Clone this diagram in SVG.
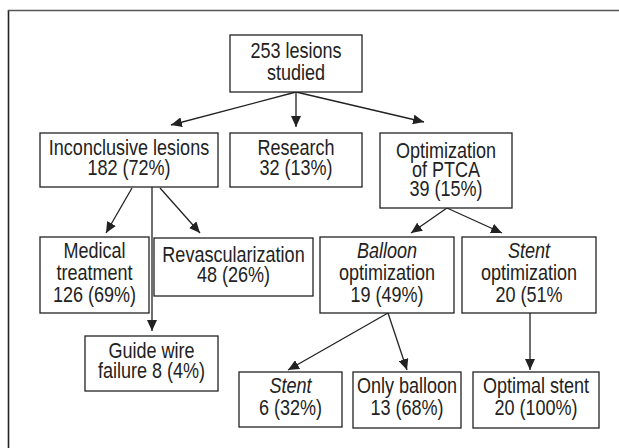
<svg xmlns="http://www.w3.org/2000/svg" width="619" height="448" viewBox="0 0 619 448">
<style>
.box{fill:#fff;stroke:#222;stroke-width:1.3}
text{font-family:"Liberation Sans",Arial,sans-serif;font-size:22px;fill:#222;text-anchor:middle}
.i{font-style:italic}
.c line{stroke:#222;stroke-width:1.3;marker-end:url(#ah)}
</style>
<defs>
<marker id="ah" markerUnits="userSpaceOnUse" markerWidth="12" markerHeight="10" refX="11" refY="5" orient="auto">
<path d="M0,0 L11,5 L0,10 Z" fill="#222"/>
</marker>
</defs>
<rect width="619" height="448" fill="#fff"/>
<line x1="8.5" y1="10" x2="8.5" y2="448" stroke="#222" stroke-width="1.6"/>
<line x1="8" y1="10.5" x2="619" y2="10.5" stroke="#555" stroke-width="1.6"/>
<g class="c" id="connectors">
<line x1="296" y1="92" x2="171" y2="125"/>
<line x1="296" y1="92" x2="296" y2="127"/>
<line x1="296" y1="92" x2="424" y2="122"/>
<line x1="132" y1="188" x2="106" y2="233"/>
<line x1="160" y1="188" x2="200" y2="233"/>
<line x1="152" y1="187" x2="152" y2="331"/>
<line x1="447" y1="208" x2="411" y2="233"/>
<line x1="447" y1="208" x2="502" y2="233"/>
<line x1="388" y1="313" x2="288" y2="370"/>
<line x1="388" y1="313" x2="407" y2="370"/>
<line x1="530" y1="313" x2="530" y2="370"/>
</g>
<g id="root"><rect class="box" x="230" y="35" width="132" height="57"/>
<g transform="translate(296 0) scale(0.82 1)"><text y="58">253 lesions</text><text y="80">studied</text></g></g>
<g id="inconclusive"><rect class="box" x="40" y="133" width="178" height="54"/>
<g transform="translate(129 0) scale(0.82 1)"><text y="155">Inconclusive lesions</text><text y="175">182 (72%)</text></g></g>
<g id="research"><rect class="box" x="230" y="133" width="132" height="54"/>
<g transform="translate(296 0) scale(0.82 1)"><text y="155">Research</text><text y="175">32 (13%)</text></g></g>
<g id="optimization"><rect class="box" x="380" y="133" width="132" height="75"/>
<g transform="translate(446 0) scale(0.82 1)"><text y="158">Optimization</text><text y="177">of PTCA</text><text y="196">39 (15%)</text></g></g>
<g id="medical"><rect class="box" x="40" y="237" width="109" height="76"/>
<g transform="translate(94.5 0) scale(0.82 1)"><text y="258">Medical</text><text y="280">treatment</text><text y="302">126 (69%)</text></g></g>
<g id="revasc"><rect class="box" x="154" y="238" width="159" height="58"/>
<g transform="translate(233.5 0) scale(0.82 1)"><text y="262">Revascularization</text><text y="282">48 (26%)</text></g></g>
<g id="balloon"><rect class="box" x="320" y="237" width="134" height="76"/>
<g transform="translate(387 0) scale(0.82 1)"><text class="i" y="258">Balloon</text><text y="280">optimization</text><text y="302">19 (49%)</text></g></g>
<g id="stentopt"><rect class="box" x="462" y="237" width="134" height="76"/>
<g transform="translate(529 0) scale(0.82 1)"><text class="i" y="258">Stent</text><text y="280">optimization</text><text y="302">20 (51%</text></g></g>
<g id="guide"><rect class="box" x="85" y="336" width="133" height="55"/>
<g transform="translate(151.5 0) scale(0.82 1)"><text y="358">Guide wire</text><text y="378">failure 8 (4%)</text></g></g>
<g id="stent"><rect class="box" x="239" y="372" width="103" height="55"/>
<g transform="translate(290.5 0) scale(0.82 1)"><text class="i" y="393">Stent</text><text y="415">6 (32%)</text></g></g>
<g id="onlyballoon"><rect class="box" x="353" y="372" width="108" height="56"/>
<g transform="translate(407 0) scale(0.82 1)"><text y="393">Only balloon</text><text y="415">13 (68%)</text></g></g>
<g id="optimal"><rect class="box" x="473" y="372" width="126" height="56"/>
<g transform="translate(536 0) scale(0.82 1)"><text y="393">Optimal stent</text><text y="415">20 (100%)</text></g></g>
</svg>
